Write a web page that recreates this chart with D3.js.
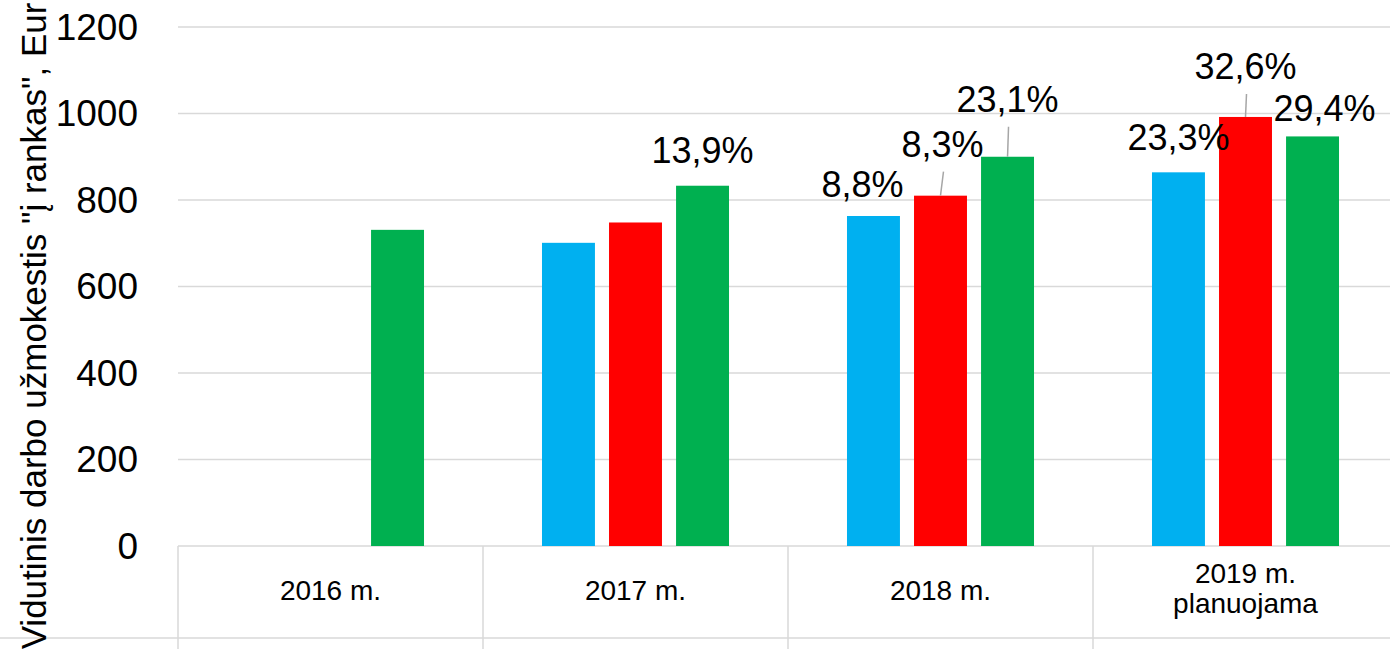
<!DOCTYPE html>
<html>
<head>
<meta charset="utf-8">
<script src="https://cdn.jsdelivr.net/npm/d3@7"></script>
<style>
  body { margin: 0; background: #fff; }
  svg { display: block; font-family: "Liberation Sans", Arial, sans-serif; }
</style>
</head>
<body>
<svg id="chart" width="1390" height="649"></svg>
<script>
// Chart data
const categories = ["2016 m.", "2017 m.", "2018 m.", "2019 m.|planuojama"];
const seriesKeys = ["blue", "red", "green"];
const blueValues = [null, 701, 763, 864];
const redValues = [null, 748, 810, 992];
const greenValues = [731, 833, 900, 947];
const blueLabels = [null, null, "8,8%", "23,3%"];
const redLabels = [null, null, "8,3%", "32,6%"];
const greenLabels = [null, "13,9%", "23,1%", "29,4%"];
const yTicks = [0, 200, 400, 600, 800, 1000, 1200];
const yTitle = 'Vidutinis darbo užmokestis "į rankas", Eur';

// Colours per series
const colours = { blue: "#00b0f0", red: "#ff0000", green: "#00b050" };

// Label nudges (px), where the labels sit in the original
const labelNudge = {
  "1-green": { dx: 0, gap: 23 },
  "2-blue": { dx: -11, gap: 19 },
  "2-red": { dx: 2, gap: 39, leader: true },
  "2-green": { dx: 0, gap: 45, leader: true },
  "3-blue": { dx: 0, gap: 22 },
  "3-red": { dx: 0, gap: 38, leader: true },
  "3-green": { dx: 12, gap: 15 }
};

const valuesBy = { blue: blueValues, red: redValues, green: greenValues };
const labelsBy = { blue: blueLabels, red: redLabels, green: greenLabels };

const width = 1390, height = 649;
const plot = { left: 178, right: 1398, top: 27, bottom: 546 };

const svg = d3.select("#chart");

const x0 = d3.scaleBand()
  .domain(categories)
  .range([plot.left, plot.right])
  .paddingInner(0)
  .paddingOuter(0);

const x1 = d3.scaleBand()
  .domain(seriesKeys)
  .range([0, x0.bandwidth()])
  .paddingInner(0.21)
  .paddingOuter(0.88);

const y = d3.scaleLinear()
  .domain([0, 1200])
  .range([plot.bottom, plot.top]);

// Gridlines
svg.append("g")
  .selectAll("line")
  .data(yTicks.filter(d => d > 0))
  .join("line")
  .attr("x1", plot.left).attr("x2", width)
  .attr("y1", d => y(d)).attr("y2", d => y(d))
  .attr("stroke", "#d9d9d9").attr("stroke-width", 1.5);

// Category table lines
const table = svg.append("g").attr("stroke", "#d9d9d9").attr("stroke-width", 1.5);
table.append("line")
  .attr("x1", plot.left).attr("x2", width)
  .attr("y1", y(0)).attr("y2", y(0));
table.append("line")
  .attr("x1", 0).attr("x2", width)
  .attr("y1", 638).attr("y2", 638);
table.selectAll("line.sep")
  .data(categories)
  .join("line")
  .attr("class", "sep")
  .attr("x1", d => x0(d)).attr("x2", d => x0(d))
  .attr("y1", y(0)).attr("y2", height);

// Bars
const barData = [];
categories.forEach((c, i) => {
  seriesKeys.forEach(k => {
    const v = valuesBy[k][i];
    if (v != null) barData.push({ cat: c, idx: i, key: k, value: v, label: labelsBy[k][i] });
  });
});

svg.append("g")
  .selectAll("rect")
  .data(barData)
  .join("rect")
  .attr("x", d => x0(d.cat) + x1(d.key))
  .attr("y", d => y(d.value))
  .attr("width", x1.bandwidth())
  .attr("height", d => y(0) - y(d.value))
  .attr("fill", d => colours[d.key]);

// Value labels with leader lines
const labelled = barData.filter(d => d.label);
const labelPos = d => {
  const n = labelNudge[d.idx + "-" + d.key] || { dx: 0, gap: 20 };
  const cx = x0(d.cat) + x1(d.key) + x1.bandwidth() / 2;
  return { cx: cx, lx: cx + n.dx, ly: y(d.value) - n.gap, leader: n.leader };
};

svg.append("g")
  .selectAll("line")
  .data(labelled.filter(d => labelPos(d).leader))
  .join("line")
  .attr("x1", d => labelPos(d).lx + 1)
  .attr("y1", d => labelPos(d).ly + 15)
  .attr("x2", d => labelPos(d).cx)
  .attr("y2", d => y(d.value))
  .attr("stroke", "#a6a6a6").attr("stroke-width", 1.5);

svg.append("g")
  .selectAll("text")
  .data(labelled)
  .join("text")
  .attr("x", d => labelPos(d).lx)
  .attr("y", d => labelPos(d).ly)
  .attr("text-anchor", "middle")
  .attr("font-size", 36)
  .attr("fill", "#000")
  .text(d => d.label);

// Y tick labels
svg.append("g")
  .selectAll("text")
  .data(yTicks)
  .join("text")
  .attr("x", 138)
  .attr("y", d => y(d))
  .attr("dy", "0.35em")
  .attr("text-anchor", "end")
  .attr("font-size", 37)
  .attr("fill", "#000")
  .text(d => d);

// Category labels
const catText = svg.append("g")
  .selectAll("text")
  .data(categories)
  .join("text")
  .attr("x", d => x0(d) + x0.bandwidth() / 2)
  .attr("y", d => d.includes("|") ? 583 : 600)
  .attr("text-anchor", "middle")
  .attr("font-size", 28)
  .attr("fill", "#000");
catText.each(function(d) {
  const parts = d.split("|");
  const t = d3.select(this);
  parts.forEach((p, i) => {
    t.append("tspan")
      .attr("x", x0(d) + x0.bandwidth() / 2)
      .attr("dy", i === 0 ? 0 : 30)
      .text(p);
  });
});

// Y axis title
svg.append("text")
  .attr("transform", "translate(46,326) rotate(-90)")
  .attr("text-anchor", "middle")
  .attr("font-size", 35)
  .attr("fill", "#000")
  .text(yTitle);
</script>
</body>
</html>
